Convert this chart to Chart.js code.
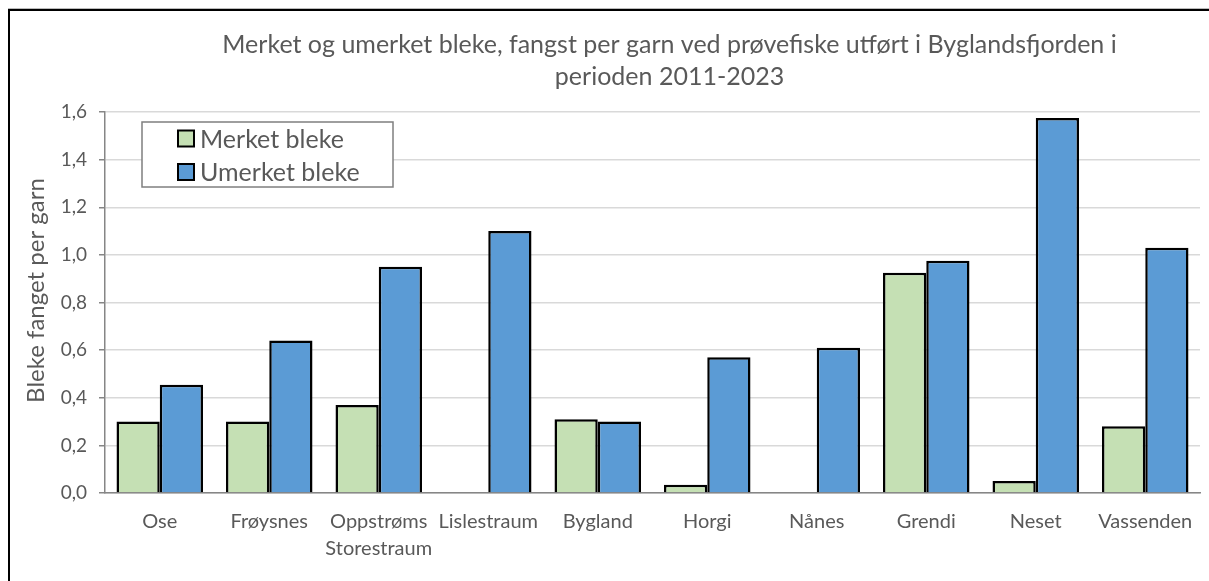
<!DOCTYPE html>
<html>
<head>
<meta charset="utf-8">
<script src="https://cdn.jsdelivr.net/npm/chart.js@4.4.0/dist/chart.umd.min.js"></script>
<style>
html, body { margin: 0; padding: 0; background: #fff; overflow: hidden; }
#wrap { position: relative; width: 1209px; height: 581px; }
#frame { position: absolute; left: 8px; top: 9px; width: 1400px; height: 800px; border: 2px solid #000; box-shadow: 0 -1px 0 #bbb; }
canvas { position: absolute; left: 0; top: 0; }
</style>
</head>
<body>
<div id="wrap">
    <div id="frame"></div>
    <canvas id="chart" width="1209" height="581" role="img" aria-label="Merket og umerket bleke per garn"></canvas>
</div>

<script>
    // DATA
    const places = ['Ose', 'Frøysnes', ['Oppstrøms', 'Storestraum'], 'Lislestraum', 'Bygland', 'Horgi', 'Nånes', 'Grendi', 'Neset', 'Vassenden'];
    const merket = [0.30, 0.30, 0.37, null, 0.31, 0.035, null, 0.925, 0.05, 0.28];
    const umerket = [0.455, 0.64, 0.95, 1.10, 0.30, 0.57, 0.61, 0.975, 1.575, 1.03];
    const seriesNames = ['Merket bleke', 'Umerket bleke'];
    const titleLines = ['Merket og umerket bleke, fangst per garn ved prøvefiske utført i Byglandsfjorden i', 'perioden 2011-2023'];
    const yTitle = 'Bleke fanget per garn';
    const yMin = 0, yMax = 1.6, yStep = 0.2;

    const gray = '#595959';
    const fontName = 'Lato, "Open Sans", sans-serif';

    // titles drawn Excel-style (slightly off the plot centre)
    const titlePlugin = {
        id: 'excelTitles',
        afterDraw(chart) {
            const { ctx, chartArea } = chart;
            ctx.save();
            ctx.fillStyle = gray;
            ctx.textAlign = 'center';
            ctx.textBaseline = 'middle';
            ctx.font = '25px ' + fontName;
            const cx = (chartArea.left + chartArea.right) / 2 + 17;
            titleLines.forEach((line, i) => ctx.fillText(line, cx, 45 + i * 32));
            ctx.font = '24px ' + fontName;
            ctx.translate(36, (chartArea.top + chartArea.bottom) / 2 - 12);
            ctx.rotate(-Math.PI / 2);
            ctx.fillText(yTitle, 0, 0);
            ctx.restore();
        }
    };

    // boxed legend inside the plot area
    const legendPlugin = {
        id: 'boxLegend',
        afterDraw(chart) {
            const { ctx, chartArea } = chart;
            const left = chartArea.left + 37, top = chartArea.top + 10;
            const w = 251, h = 65;
            ctx.save();
            ctx.fillStyle = '#fff';
            ctx.fillRect(left, top, w, h);
            ctx.strokeStyle = '#7f7f7f';
            ctx.lineWidth = 1.5;
            ctx.strokeRect(left, top, w, h);
            ctx.font = '25px ' + fontName;
            ctx.textBaseline = 'middle';
            chart.data.datasets.forEach((ds, i) => {
                const y = top + 16.5 + i * 33.5;
                ctx.fillStyle = ds.backgroundColor;
                ctx.fillRect(left + 36, y - 8, 16, 16);
                ctx.strokeStyle = '#000';
                ctx.lineWidth = 2;
                ctx.strokeRect(left + 36, y - 8, 16, 16);
                ctx.fillStyle = gray;
                ctx.fillText(ds.label, left + 58, y + 1);
            });
            ctx.restore();
        }
    };

    Chart.defaults.font.family = fontName;
    Chart.defaults.color = gray;

    new Chart(document.getElementById('chart'), {
        type: 'bar',
        data: {
            labels: places,
            datasets: [
                { label: seriesNames[0], data: merket, backgroundColor: '#c5e0b4', borderColor: '#000', borderWidth: 2.5 },
                { label: seriesNames[1], data: umerket, backgroundColor: '#5b9bd5', borderColor: '#000', borderWidth: 2.5 }
            ]
        },
        options: {
            responsive: false,
            animation: false,
            layout: { padding: { top: 112, left: 0, right: 9, bottom: 0 } },
            datasets: { bar: { categoryPercentage: 0.79, barPercentage: 1 } },
            plugins: {
                legend: { display: false },
                title: { display: false },
                tooltip: { enabled: false }
            },
            scales: {
                x: {
                    grid: { display: false },
                    border: { color: '#868686', width: 1.5 },
                    ticks: { autoSkip: false, maxRotation: 0, padding: 7, color: gray, font: { size: 20, lineHeight: 1.35 } },
                    afterFit: scale => { scale.height = 88; }
                },
                y: {
                    min: yMin,
                    max: yMax,
                    grid: { color: '#d9d9d9', lineWidth: 1.5, tickColor: '#868686', tickLength: 6 },
                    border: { color: '#868686', width: 1.5 },
                    ticks: {
                        stepSize: yStep,
                        padding: 12,
                        color: gray,
                        font: { size: 19 },
                        callback: v => v.toFixed(1).replace('.', ',')
                    },
                    afterFit: scale => { scale.width = 105; }
                }
            }
        },
        plugins: [titlePlugin, legendPlugin]
    });
</script>
</body>
</html>
